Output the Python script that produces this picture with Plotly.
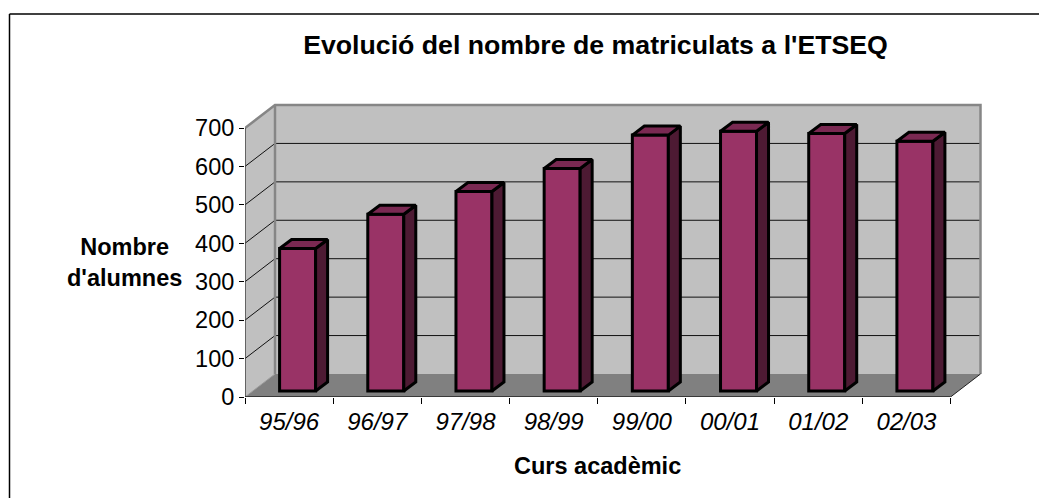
import plotly.graph_objects as go

categories = ["95/96", "96/97", "97/98", "98/99", "99/00", "00/01", "01/02", "02/03"]
values = [371, 460, 519, 579, 666, 676, 670, 650]
y_ticks = [0, 100, 200, 300, 400, 500, 600, 700]

W, H = 1039, 498
X0, X8 = 245.0, 950.5      # pixel positions of category edges 0 and 8 (front plane)
Y0, Y700 = 396.7, 128.0    # pixel positions of value 0 and 700 (front plane)
PL, PR, PT, PB = X0, 990.0, 98.0, Y0
PX_X = (X8 - X0) / 8
PX_Y = (Y0 - Y700) / 700
DX, DY = 30 / PX_X, 23 / PX_Y   # wall depth in axis units
YTOP = 700
BAR_W = 36 / PX_X
BAR_DX, BAR_DY = 12 / PX_X, 9 / PX_Y
BAR_X_OFF, BAR_Y_OFF = 8.5 / PX_X, 6 / PX_Y

fig = go.Figure()
shapes = []


def wall(xs, ys, fill):
    path = "M " + " L ".join(f"{x},{y}" for x, y in zip(xs, ys)) + " Z"
    shapes.append(dict(type="path", path=path, xref="x", yref="y", fillcolor=fill,
                       line=dict(width=0), layer="below"))


def seg(xs, ys, color, width):
    path = "M " + " L ".join(f"{x},{y}" for x, y in zip(xs, ys))
    shapes.append(dict(type="path", path=path, xref="x", yref="y",
                       line=dict(color=color, width=width), layer="below"))


def face(xs, ys, fill):
    fig.add_trace(go.Scatter(x=xs, y=ys, mode="lines", fill="toself", fillcolor=fill,
                             line=dict(color="#000000", width=3), hoverinfo="skip", showlegend=False))


n = len(categories)
# walls and floor
wall([DX, n + DX, n + DX, DX], [DY, DY, YTOP + DY, YTOP + DY], "#c0c0c0")
wall([0, DX, DX, 0], [0, DY, YTOP + DY, YTOP], "#c0c0c0")
wall([0, n, n + DX, DX], [0, 0, DY, DY], "#808080")
# gridlines
for t in y_ticks[1:-1]:
    seg([0, DX, n + DX], [t, t + DY, t + DY], "#111111", 1)
# wall edges
seg([0, DX, n + DX, n + DX], [YTOP, YTOP + DY, YTOP + DY, DY], "#868686", 2.5)
seg([DX, DX], [DY, YTOP + DY], "#868686", 2.5)
seg([n, n + DX], [0, DY], "#222222", 1)
seg([0, DX], [0, DY], "#9a9a9a", 1)
# axes
seg([0, 0], [0, YTOP], "#444444", 1.5)
seg([0, n], [0, 0], "#222222", 1.5)

# 3D bars: the front face is a bar trace, side and top faces are filled polygons
centers = [i + 0.5 + BAR_X_OFF for i in range(n)]
fig.add_trace(go.Bar(x=centers, y=values, base=[BAR_Y_OFF] * n, width=BAR_W,
                     marker=dict(color="#993366", line=dict(color="#000000", width=3)),
                     hoverinfo="skip", showlegend=False))
for c, v in zip(centers, values):
    l, r = c - BAR_W / 2, c + BAR_W / 2
    b, t = BAR_Y_OFF, v + BAR_Y_OFF
    face([r, r + BAR_DX, r + BAR_DX, r, r], [b, b + BAR_DY, t + BAR_DY, t, b], "#4d1a33")
    face([l, r, r + BAR_DX, l + BAR_DX, l], [t, t, t + BAR_DY, t + BAR_DY, t], "#7a2952")

FRAME_X = -(PL - 9.5) / (PR - PL)
FRAME_Y = 1 + (PT - 14) / (PB - PT)
shapes.append(dict(type="line", xref="paper", yref="paper", x0=FRAME_X, x1=FRAME_X,
                   y0=-(H - PB) / (PB - PT), y1=FRAME_Y, line=dict(color="#000000", width=1.5)))
shapes.append(dict(type="line", xref="paper", yref="paper", x0=FRAME_X, x1=(W - PL) / (PR - PL),
                   y0=FRAME_Y, y1=FRAME_Y, line=dict(color="#000000", width=1.5)))

fig.update_layout(
    width=W, height=H, autosize=False,
    margin=dict(l=PL, r=W - PR, t=PT, b=H - PB, pad=0),
    paper_bgcolor="#ffffff", plot_bgcolor="rgba(0,0,0,0)",
    font=dict(family="Liberation Sans, Arial, sans-serif", color="#000000"),
    title=dict(text="<b>Evolució del nombre de matriculats a l'ETSEQ</b>", x=595.5 / W, xanchor="center",
               y=1 - 45 / H, yanchor="middle", font=dict(size=26.7)),
    xaxis=dict(range=[0, (PR - X0) / PX_X], showgrid=False, zeroline=False, showline=False,
               tickmode="array", tickvals=[i + 0.5 for i in range(n)], ticktext=categories,
               ticks="", ticklen=0, tickfont=dict(size=24, style="italic"), automargin=False,
               ticklabelstandoff=8,
               minor=dict(tickmode="array", tickvals=list(range(n + 1)), ticks="outside",
                          ticklen=6, tickwidth=1, tickcolor="#000000", showgrid=False)),
    yaxis=dict(range=[0, (PB - PT) / PX_Y], showgrid=False, zeroline=False, showline=False,
               tickmode="array", tickvals=y_ticks, ticks="outside", ticklen=5, tickwidth=1,
               tickcolor="#000000", tickfont=dict(size=23.5), automargin=False),
    shapes=shapes,
    annotations=[
        dict(text="<b>Nombre<br>d'alumnes</b>", xref="paper", yref="paper",
             x=(124 - PL) / (PR - PL), y=(PB - 262) / (PB - PT), xanchor="center", yanchor="middle",
             showarrow=False, align="center", font=dict(size=23.5)),
        dict(text="<b>Curs acadèmic</b>", xref="paper", yref="paper",
             x=(597.5 - PL) / (PR - PL), y=(PB - 466) / (PB - PT), xanchor="center", yanchor="middle",
             showarrow=False, font=dict(size=23.5)),
    ],
)
fig.write_html("out.html", config={"displayModeBar": False},
               post_script="document.body.style.margin='0';document.body.style.overflow='hidden';")
